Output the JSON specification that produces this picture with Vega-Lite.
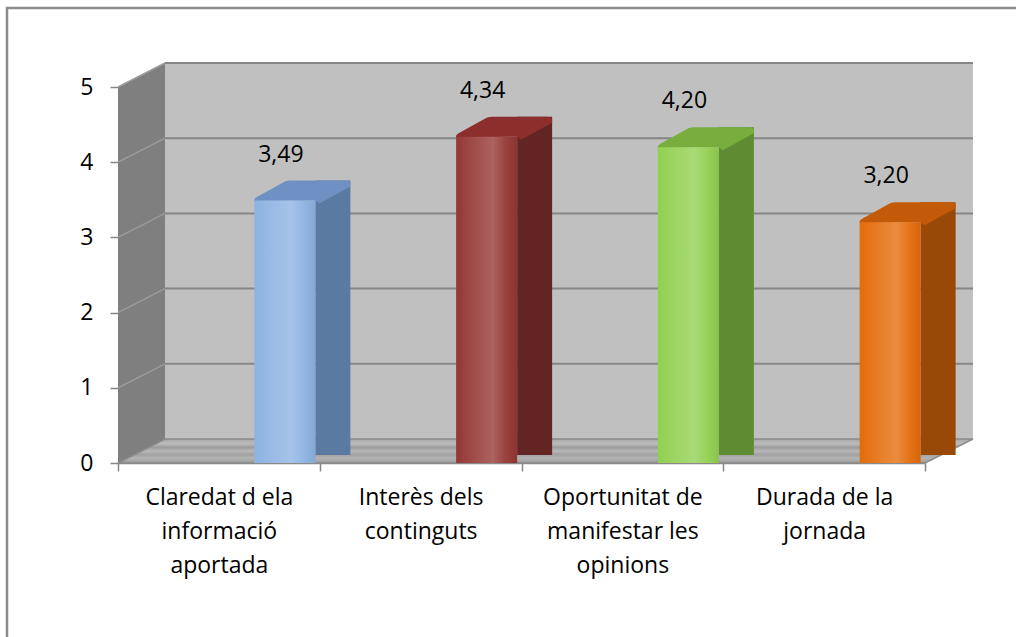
{
  "$schema": "https://vega.github.io/schema/vega-lite/v6.json",
  "width": 807,
  "height": 376,
  "autosize": {"type": "none"},
  "padding": {"left": 118, "top": 87, "right": 91, "bottom": 174},
  "background": "white",
  "config": {
    "view": {"stroke": null},
    "font": "Open Sans",
    "locale": {"number": {"decimal": ",", "thousands": ".", "grouping": [3], "currency": ["", " €"]}},
    "axis": {"labelFont": "Open Sans", "labelColor": "#000000", "titleFont": "Open Sans"}
  },
  "datasets": {
    "scores": [
      {"aspecte": "Claredat d ela\ninformació\naportada", "valor": 3.49},
      {"aspecte": "Interès dels\ncontinguts", "valor": 4.34},
      {"aspecte": "Oportunitat de\nmanifestar les\nopinions", "valor": 4.20},
      {"aspecte": "Durada de la\njornada", "valor": 3.20}
    ],
    "levels": [{"v": 1}, {"v": 2}, {"v": 3}, {"v": 4}, {"v": 5}]
  },
  "data": {"name": "scores"},
  "layer": [
    {
      "data": {"values": [{}]},
      "mark": {"type": "rect", "fillOpacity": 0, "stroke": "#8c8c8c", "strokeWidth": 2.5, "xOffset": -111, "x2Offset": 120, "yOffset": -79, "y2Offset": 200},
      "encoding": {"x": {"value": 0}, "x2": {"value": "width"}, "y": {"value": 0}, "y2": {"value": "height"}}
    },
    {
      "data": {"values": [{}]},
      "mark": {"type": "rect", "fill": "#c0c0c0", "xOffset": 47, "x2Offset": 48, "yOffset": -24, "y2Offset": -24},
      "encoding": {"x": {"value": 0}, "x2": {"value": "width"}, "y": {"datum": 5, "type": "quantitative"}, "y2": {"datum": 0}}
    },
    {
      "data": {"name": "levels"},
      "mark": {"type": "rule", "color": "#868686", "strokeWidth": 2, "xOffset": 47, "x2Offset": 48, "yOffset": -24},
      "encoding": {"x": {"value": 0}, "x2": {"value": "width"}, "y": {"field": "v", "type": "quantitative"}}
    },
    {
      "data": {"values": [{}]},
      "mark": {"type": "point", "shape": "M0,0 L0,-376 L47,-400 L47,-24 Z", "size": 4, "filled": true, "fill": "#7f7f7f", "opacity": 1, "strokeWidth": 0},
      "encoding": {"x": {"value": 0}, "y": {"datum": 0, "type": "quantitative"}}
    },
    {
      "data": {"name": "levels"},
      "mark": {"type": "rule", "color": "#9c9c9c", "strokeWidth": 1.5, "x2Offset": 47, "y2Offset": -24},
      "encoding": {"x": {"value": 0}, "x2": {"value": 0}, "y": {"field": "v", "type": "quantitative"}, "y2": {"field": "v"}}
    },
    {
      "data": {"values": [{}]},
      "mark": {
        "type": "point", "shape": "M0,0 L807,0 L855,-24 L47,-24 Z", "size": 4, "filled": true,
        "fill": {
          "gradient": "linear", "x1": 0, "x2": 0, "y1": 0, "y2": 1,
          "stops": [
            {"offset": 0, "color": "#a8a8a8"},
            {"offset": 0.2, "color": "#bcbcbc"},
            {"offset": 0.35, "color": "#9c9c9c"},
            {"offset": 0.5, "color": "#b8b8b8"},
            {"offset": 0.65, "color": "#a2a2a2"},
            {"offset": 0.8, "color": "#b4b4b4"},
            {"offset": 1, "color": "#9a9a9a"}
          ]
        },
        "stroke": "#8a8a8a", "strokeWidth": 1.5, "opacity": 1
      },
      "encoding": {"x": {"value": 0}, "y": {"datum": 0, "type": "quantitative"}}
    },
    {
      "mark": {"type": "bar", "width": 35, "xOffset": 114, "yOffset": -20, "y2Offset": -8},
      "encoding": {
        "x": {
          "field": "aspecte", "type": "nominal", "sort": null,
          "scale": {"paddingInner": 0, "paddingOuter": 0},
          "axis": {
            "title": null, "labelAngle": 0, "labelExpr": "split(datum.label, '\\n')",
            "labelFontSize": 23, "labelLineHeight": 34, "labelPadding": 15, "labelLimit": 400,
            "domainColor": "#868686", "domainWidth": 1.5, "tickColor": "#868686", "tickWidth": 1.5,
            "tickSize": 8, "tickBand": "extent", "grid": false
          }
        },
        "y": {
          "field": "valor", "type": "quantitative", "scale": {"domain": [0, 5], "nice": false},
          "axis": {
            "title": null, "values": [0, 1, 2, 3, 4, 5], "format": "d", "domain": false, "grid": false,
            "tickColor": "#868686", "tickWidth": 1.5, "tickSize": 8, "labelFontSize": 23, "labelPadding": 17
          }
        },
        "y2": {"datum": 0},
        "fill": {
          "field": "aspecte", "type": "nominal", "sort": null, "legend": null,
          "scale": {"range": ["#5a7aa1", "#632523", "#5f8b32", "#984807"]}
        }
      }
    },
    {
      "mark": {"type": "point", "shape": "M-30.5,1 L-30.5,-1 Q-30.5,-2 -28,-3.5 L0,-19 Q2,-20 6,-20 L60,-20 Q65.5,-20 65.5,-17 L65.5,-14 L34.5,3 L30.5,0 Z", "size": 4, "filled": true, "opacity": 1, "strokeWidth": 0, "xOffset": 66},
      "encoding": {
        "x": {"field": "aspecte", "type": "nominal", "sort": null},
        "y": {"field": "valor", "type": "quantitative"},
        "fill": {
          "field": "aspecte", "type": "nominal", "sort": null, "legend": null,
          "scale": {"range": ["#6f90c2", "#8b2e2c", "#77ae3e", "#c25a08"]}
        }
      }
    },
    {
      "mark": {"type": "bar", "width": 61, "xOffset": 66},
      "encoding": {
        "x": {"field": "aspecte", "type": "nominal", "sort": null},
        "y": {"field": "valor", "type": "quantitative"},
        "fill": {
          "field": "aspecte", "type": "nominal", "sort": null, "legend": null,
          "scale": {"range": ["#8db3e2", "#953735", "#92d050", "#e46c0a"]}
        }
      }
    },
    {
      "mark": {
        "type": "bar", "width": 61, "xOffset": 66,
        "fill": {
          "gradient": "linear", "x1": 0, "x2": 1, "y1": 0, "y2": 0,
          "stops": [
            {"offset": 0, "color": "rgba(255,255,255,0)"},
            {"offset": 0.6, "color": "rgba(255,255,255,0.22)"},
            {"offset": 0.8, "color": "rgba(255,255,255,0.06)"},
            {"offset": 1, "color": "rgba(0,0,0,0.06)"}
          ]
        }
      },
      "encoding": {
        "x": {"field": "aspecte", "type": "nominal", "sort": null},
        "y": {"field": "valor", "type": "quantitative"}
      }
    },
    {
      "mark": {"type": "text", "fontSize": 23, "font": "Open Sans", "baseline": "middle", "align": "center", "xOffset": 62, "yOffset": -46, "color": "#000000"},
      "encoding": {
        "x": {"field": "aspecte", "type": "nominal", "sort": null},
        "y": {"field": "valor", "type": "quantitative"},
        "text": {"field": "valor", "type": "quantitative", "format": ".2f"}
      }
    }
  ],
  "resolve": {"scale": {"fill": "independent"}}
}
